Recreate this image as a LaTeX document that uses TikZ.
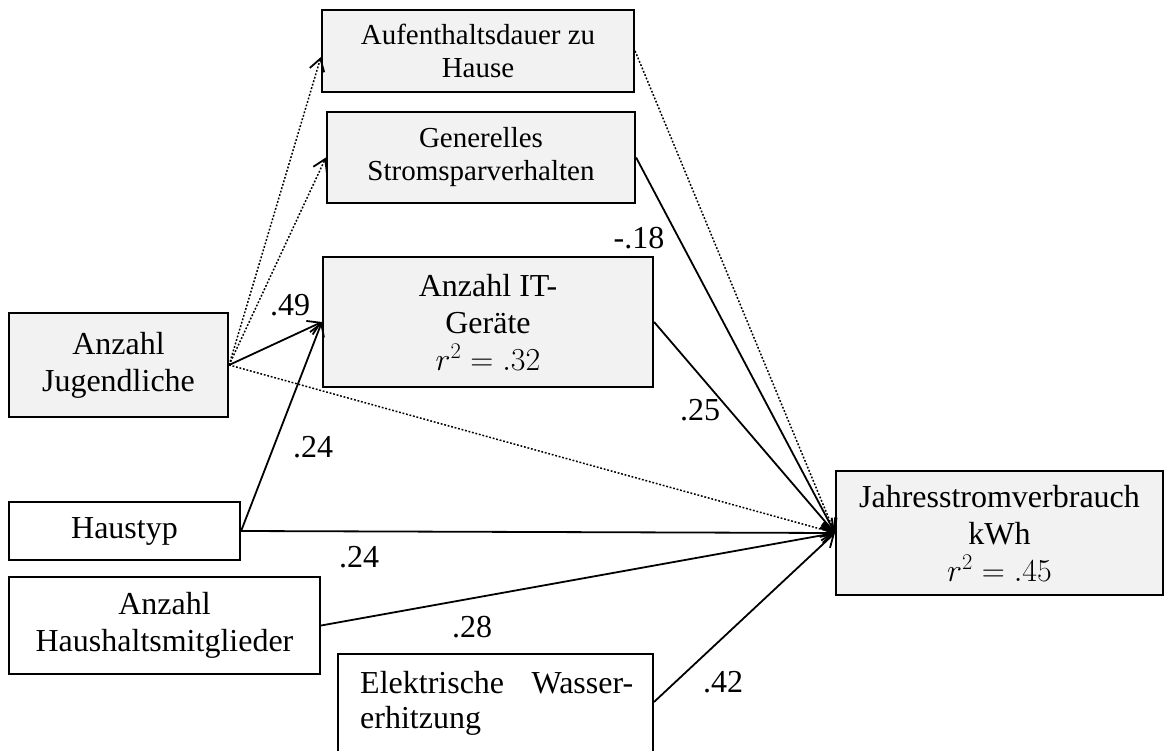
\RequirePackage{fix-cm}
\documentclass[tikz,border=0pt]{standalone}
\usepackage{fontspec}
\setmainfont{Liberation Serif}
\usetikzlibrary{arrows.meta}
\definecolor{boxgray}{HTML}{F2F2F2}

\begin{document}
\begin{tikzpicture}[x=1pt,y=-1pt,
  box/.style={draw, line width=2.2pt, inner sep=0pt, align=center,
    font=\fontsize{32}{37}\selectfont},
  shaded/.style={fill=boxgray},
  plain/.style={fill=white},
  smalltext/.style={font=\fontsize{29}{33}\selectfont},
  effect/.style={line width=1.8pt,
    -{Straight Barb[length=12pt,width=15pt,line width=1.8pt]}},
  weakeffect/.style={line width=1.5pt, dash pattern=on 1.8pt off 1.8pt,
    -{Straight Barb[length=12pt,width=15pt,line width=1.8pt]}},
  coef/.style={font=\fontsize{32}{37}\selectfont, anchor=base, inner sep=0pt}]

\path[use as bounding box] (0,0) rectangle (1166,751);
\clip (0,0) rectangle (1166,751);

% mediators
\node[box, shaded, smalltext, minimum width=312, minimum height=82]
  (aufent) at (478,51) {Aufenthaltsdauer zu\\Hause};
\node[box, shaded, smalltext, minimum width=308, minimum height=91]
  (strom) at (481,157.5) {Generelles\\Stromsparverhalten};
\node[box, shaded, minimum width=330, minimum height=130]
  (itg) at (488,322) {Anzahl IT-\\Geräte\\$r^2 = .32$};

% predictors
\node[box, shaded, minimum width=219, minimum height=104]
  (jug) at (118.5,365) {Anzahl\\Jugendliche};
\node[box, plain, minimum width=231, minimum height=58]
  (haus) at (124.5,531) {Haustyp};
\node[box, plain, minimum width=311, minimum height=97]
  (mitgl) at (164.5,625.5) {Anzahl\\Haushaltsmitglieder};
\node[box, plain, minimum width=315, minimum height=146]
  (wasser) at (495.5,727) {};
\node[anchor=base west, inner sep=0pt, font=\fontsize{32}{35}\selectfont]
  (wassertext) at (360,693)
  {\parbox[t]{273pt}{\raggedright Elektrische\hfill Wasser-\\erhitzung}};

% outcome
\node[box, shaded, minimum width=327, minimum height=124]
  (jahr) at (999.5,533) {Jahresstromverbrauch\\kWh\\$r^2 = .45$};

% paths from Anzahl Jugendliche
\draw[weakeffect] (jug.east) -- ([yshift=-6pt]aufent.west);
\draw[weakeffect] (jug.east) -- (strom.west);
\draw[effect] (jug.east) -- (itg.west);
\draw[weakeffect] (jug.east) -- (jahr.west);

% paths into the outcome
\draw[weakeffect] (aufent.east) -- (jahr.west);
\draw[effect] (strom.east) -- (jahr.west);
\draw[effect] (itg.east) -- (jahr.west);
\draw[effect] (haus.east) -- (itg.west);
\draw[effect] (haus.east) -- (jahr.west);
\draw[effect] (mitgl.east) -- (jahr.west);
\draw[effect] ([yshift=-49pt]wasser.north east) -- (jahr.west);

% coefficients
\node[coef] (c49) at (290,315) {.49};
\node[coef] (c18) at (639,248) {-.18};
\node[coef] (c25) at (700,420) {.25};
\node[coef] (c24a) at (313,457) {.24};
\node[coef] (c24b) at (359,567) {.24};
\node[coef] (c28) at (472,637) {.28};
\node[coef] (c42) at (723,692) {.42};
\end{tikzpicture}
\end{document}
